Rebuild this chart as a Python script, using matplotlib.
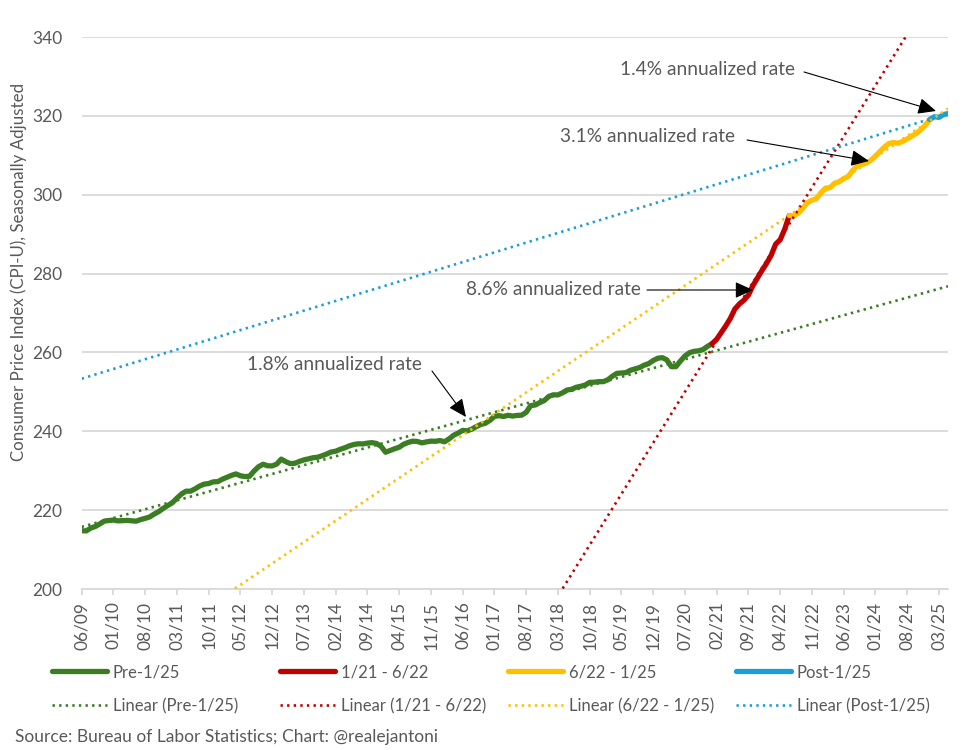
import numpy as np
import pandas as pd
import matplotlib
matplotlib.use("Agg")
import matplotlib.pyplot as plt
from matplotlib.lines import Line2D

plt.rcParams['font.family'] = ['Lato', 'DejaVu Sans']

# ---------------- data (CPI-U, seasonally adjusted, monthly 06/2009 - 05/2025)
start_month = "2009-06"
cpi_2009 = [214.79, 214.73, 215.45, 215.86, 216.51, 217.23, 217.35]
cpi_2010 = [217.49, 217.28, 217.35, 217.40, 217.29, 217.20, 217.61, 217.92, 218.28, 219.02, 219.64, 220.47]
cpi_2011 = [221.19, 221.90, 223.05, 224.09, 224.81, 224.81, 225.40, 226.11, 226.60, 226.75, 227.17, 227.22]
cpi_2012 = [227.84, 228.33, 228.81, 229.19, 228.71, 228.52, 228.59, 229.92, 231.02, 231.64, 231.25, 231.22]
cpi_2013 = [231.68, 232.94, 232.28, 231.80, 231.89, 232.36, 232.75, 233.00, 233.29, 233.42, 233.79, 234.23]
cpi_2014 = [234.75, 234.95, 235.43, 235.81, 236.30, 236.65, 236.83, 236.79, 237.00, 237.12, 236.90, 236.19]
cpi_2015 = [234.69, 235.13, 235.57, 235.96, 236.72, 237.18, 237.50, 237.42, 237.06, 237.31, 237.50, 237.46]
cpi_2016 = [237.65, 237.34, 238.08, 238.99, 239.56, 240.22, 240.10, 240.55, 241.18, 241.74, 242.03, 242.77]
cpi_2017 = [243.78, 243.96, 243.75, 244.05, 243.86, 244.03, 244.08, 244.81, 246.51, 246.67, 247.28, 247.81]
cpi_2018 = [248.86, 249.25, 249.22, 249.76, 250.46, 250.65, 251.15, 251.41, 251.72, 252.41, 252.44, 252.59]
cpi_2019 = [252.59, 253.06, 253.97, 254.69, 254.77, 254.87, 255.48, 255.83, 256.16, 256.76, 257.16, 257.94]
cpi_2020 = [258.52, 258.68, 258.12, 256.39, 256.39, 257.80, 259.10, 259.92, 260.28, 260.39, 260.75, 261.56]
cpi_2021 = [262.23, 263.35, 265.03, 266.73, 268.60, 271.00, 272.29, 273.25, 274.57, 276.98, 278.90, 280.81]
cpi_2022 = [282.60, 284.61, 287.47, 288.58, 291.27, 294.73, 294.63, 295.32, 296.54, 297.99, 298.60, 298.99]
cpi_2023 = [300.54, 301.65, 301.81, 302.92, 303.29, 304.10, 304.62, 306.19, 307.29, 307.62, 308.02, 308.74]
cpi_2024 = [309.79, 310.97, 312.11, 313.02, 313.23, 313.05, 313.53, 314.12, 314.85, 315.56, 316.45, 317.60]
cpi_2025 = [319.09, 319.78, 319.62, 320.32, 320.58]

cpi = np.array(cpi_2009 + cpi_2010 + cpi_2011 + cpi_2012 + cpi_2013 + cpi_2014 + cpi_2015 +
               cpi_2016 + cpi_2017 + cpi_2018 + cpi_2019 + cpi_2020 + cpi_2021 + cpi_2022 +
               cpi_2023 + cpi_2024 + cpi_2025)
dates = pd.period_range(start_month, periods=len(cpi), freq="M")
tick_labels = [d.strftime("%m/%y") for d in dates[::7]]

segment_names = ["Pre-1/25", "1/21 - 6/22", "6/22 - 1/25", "Post-1/25"]
segment_start = ["2009-06", "2021-01", "2022-06", "2025-01"]
segment_end = ["2021-01", "2022-06", "2025-01", "2025-05"]
segment_colors = ["#3B7D23", "#C00000", "#FFC000", "#1A9FD8"]

annotations = ["1.4% annualized rate", "3.1% annualized rate",
               "8.6% annualized rate", "1.8% annualized rate"]

# ---------------- figure
W, H = 975, 750
fig = plt.figure(figsize=(W / 100, H / 100), dpi=100)
L, R, T, B = 81.7, 948.0, 37.0, 589.0
ax = fig.add_axes([L / W, 1 - B / H, (R - L) / W, (B - T) / H])

x = np.arange(len(cpi))
grey_txt = "#595959"

for k in range(4):
    i0 = dates.get_loc(pd.Period(segment_start[k], freq="M"))
    i1 = dates.get_loc(pd.Period(segment_end[k], freq="M"))
    xs, ys = x[i0:i1 + 1], cpi[i0:i1 + 1]
    ax.plot(xs, ys, color=segment_colors[k], lw=3.8, solid_capstyle="round",
            solid_joinstyle="round", zorder=3)
    p = np.polyfit(xs, ys, 1)
    xx = np.array([x[0], x[-1]])
    ax.plot(xx, np.polyval(p, xx), color=segment_colors[k], lw=1.9,
            linestyle=(0, (0.9, 1.6)), zorder=4)

ax.set_xlim(x[0], x[-1])
ax.set_ylim(200, 340)
ax.set_yticks(np.arange(200, 341, 20))
ax.set_xticks(x[::7])
ax.set_xticklabels(tick_labels, rotation=90)
ax.grid(axis="y", color="#D9D9D9", lw=1.3)
ax.set_axisbelow(True)
for s in ["top", "right", "left"]:
    ax.spines[s].set_visible(False)
ax.spines["bottom"].set_color("#D9D9D9")
ax.spines["bottom"].set_linewidth(1.3)
ax.tick_params(axis="y", length=0, pad=14, labelsize=12.5, labelcolor=grey_txt)
ax.tick_params(axis="x", length=4, width=1.3, color="#D9D9D9", pad=5,
               labelsize=12.5, labelcolor=grey_txt)
fig.text(18.5 / W, 1 - 272 / H, "Consumer Price Index (CPI-U), Seasonally Adjusted",
         rotation=90, ha="center", va="center", fontsize=12.2, color=grey_txt)

# ---------------- annotations (month index, value)
def px2data(px, py):
    return ((px - L) / (R - L) * (x[-1] - x[0]), 340 - (py - T) / (B - T) * 140)

ann_text_pos = [(620, 69), (560, 137), (466, 289), (247, 364)]
ann_arrow_from = [(804, 72), (747, 140), (647, 290), (432, 371)]
ann_arrow_to = [(936, 111), (869, 161), (753, 290), (466, 417)]
for t, tp, a0, a1 in zip(annotations, ann_text_pos, ann_arrow_from, ann_arrow_to):
    ax.text(*px2data(*tp), t, ha="left", va="center", fontsize=13.8, color=grey_txt, zorder=6)
    ax.annotate("", xy=px2data(*a1), xytext=px2data(*a0),
                arrowprops=dict(arrowstyle="-|>,head_length=0.55,head_width=0.25",
                                color="black", lw=0.8, shrinkA=0, shrinkB=0,
                                mutation_scale=20), zorder=6)

# ---------------- legend
fs = 12
fs_px = fs * 100 / 72
col_x = [52, 280, 508, 736]
row_y = [672, 706]
for k in range(4):
    solid = Line2D([], [], color=segment_colors[k], lw=3.8, solid_capstyle="round")
    dotted = Line2D([], [], color=segment_colors[k], lw=1.9, linestyle=(0, (0.9, 1.6)))
    for r, (h, lab) in enumerate([(solid, segment_names[k]),
                                  (dotted, "Linear (" + segment_names[k] + ")")]):
        leg = fig.legend([h], [lab], loc="center left",
                         bbox_to_anchor=(col_x[k] / W, 1 - row_y[r] / H),
                         frameon=False, fontsize=fs, borderpad=0, borderaxespad=0,
                         handlelength=55 / fs_px, handletextpad=6 / fs_px,
                         labelcolor=grey_txt)

fig.text(15 / W, 1 - 737 / H, "Source: Bureau of Labor Statistics; Chart: @realejantoni",
         ha="left", va="center", fontsize=12.5, color=grey_txt)

fig.savefig("out.png", dpi=100)
